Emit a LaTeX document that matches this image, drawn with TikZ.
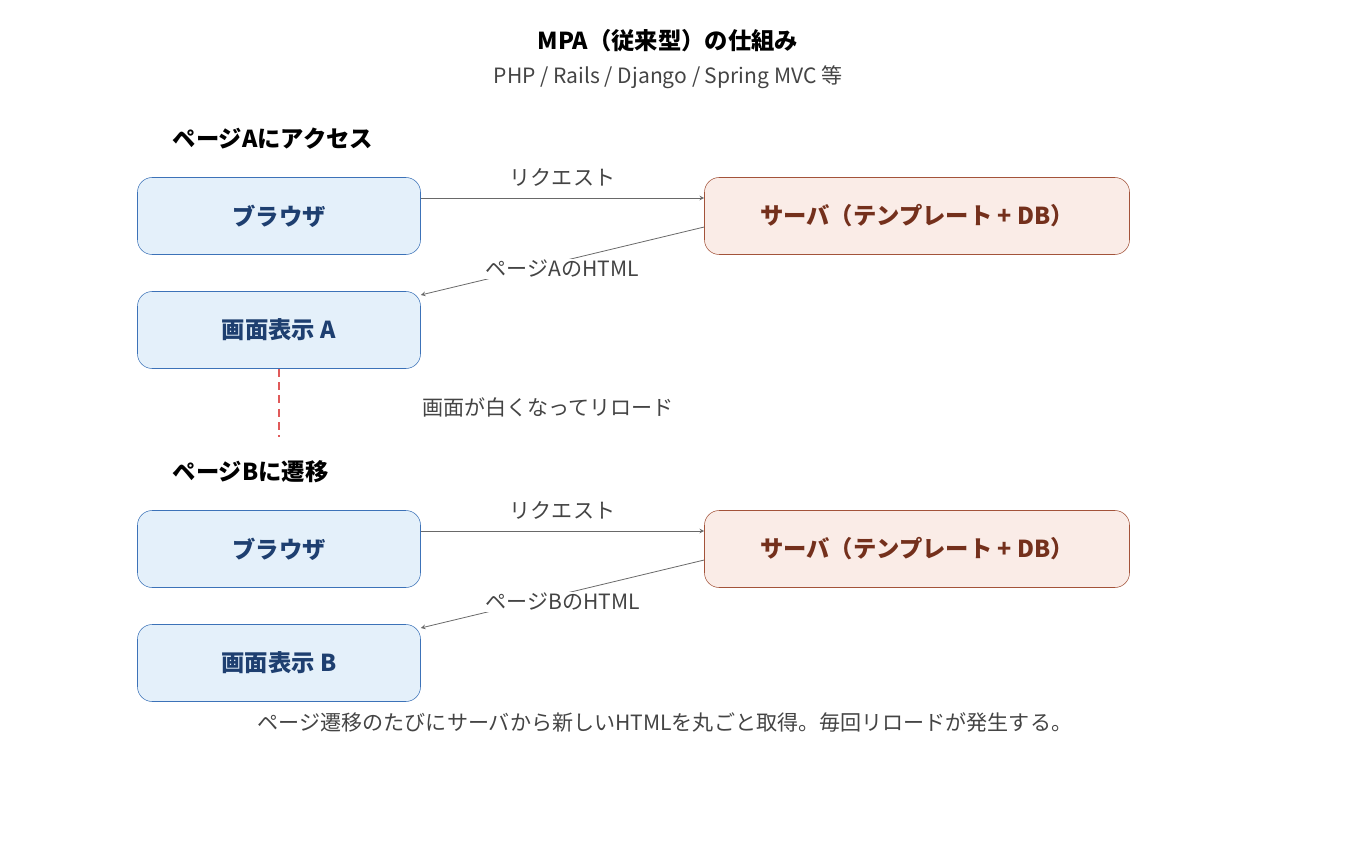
\documentclass[tikz,border=0pt]{standalone}
\usepackage{fontspec}
\setmainfont{Noto Sans CJK JP}
\usetikzlibrary{positioning}
\definecolor{bfill}{HTML}{E4F0FA}
\definecolor{bdraw}{HTML}{3C72B8}
\definecolor{btext}{HTML}{1E3F70}
\definecolor{sfill}{HTML}{FAECE7}
\definecolor{sdraw}{HTML}{A3533A}
\definecolor{stext}{HTML}{74301C}
\definecolor{gtext}{HTML}{444444}
\definecolor{gapred}{HTML}{E05A5A}
\tikzset{
  browser/.style={draw=bdraw,fill=bfill,rounded corners=11pt,minimum width=212.25pt,minimum height=57.75pt,text=btext,font=\fontsize{17.5}{20}\selectfont\bfseries},
  server/.style={draw=sdraw,fill=sfill,rounded corners=11pt,minimum width=318.75pt,minimum height=57.75pt,text=stext,font=\fontsize{17.5}{20}\selectfont\bfseries},
  lbl/.style={text=gtext,font=\fontsize{15.8}{18}\selectfont},
  head/.style={anchor=west,font=\fontsize{17.5}{20}\selectfont\bfseries},
  msg/.style={draw=gtext!80,line width=0.6pt,-stealth},
}
\begin{document}
\begin{tikzpicture}[x=0.75pt,y=-0.75pt]
\useasboundingbox (0,0) rectangle (1360,852);
\node[font=\fontsize{17.5}{20}\selectfont\bfseries] (title) at (668,41) {MPA（従来型）の仕組み};
\node[lbl] (sub) at (668,77) {PHP / Rails / Django / Spring MVC 等};
% page A
\node[head] (ha) at (168,139) {ページAにアクセス};
\node[browser] (b1) at (279,216) {ブラウザ};
\node[server] (s1) at (917,216) {サーバ（テンプレート + DB）};
\node[browser] (v1) at (279,330) {画面表示 A};
\draw[msg] (b1.east |- 0,198) -- node[lbl,above=5pt] {リクエスト} (s1.west |- 0,198);
\draw[msg] (s1.west |- 0,227) -- node[lbl,fill=white,inner sep=1pt,yshift=-6pt] {ページAのHTML} (v1.east |- 0,295);
\draw[gapred,dash pattern=on 6pt off 4pt,line width=0.8pt] (v1.south) -- ++(0,68) coordinate (gap);
\node[lbl] (reload) at (548,407) {画面が白くなってリロード};
% page B
\node[head] (hb) at (168,472) {ページBに遷移};
\node[browser] (b2) at (279,549) {ブラウザ};
\node[server] (s2) at (917,549) {サーバ（テンプレート + DB）};
\node[browser] (v2) at (279,663) {画面表示 B};
\draw[msg] (b2.east |- 0,531) -- node[lbl,above=5pt] {リクエスト} (s2.west |- 0,531);
\draw[msg] (s2.west |- 0,560) -- node[lbl,fill=white,inner sep=1pt,yshift=-6pt] {ページBのHTML} (v2.east |- 0,628);
\node[lbl] (note) at (665,722) {ページ遷移のたびにサーバから新しいHTMLを丸ごと取得。毎回リロードが発生する。};
\end{tikzpicture}
\end{document}
